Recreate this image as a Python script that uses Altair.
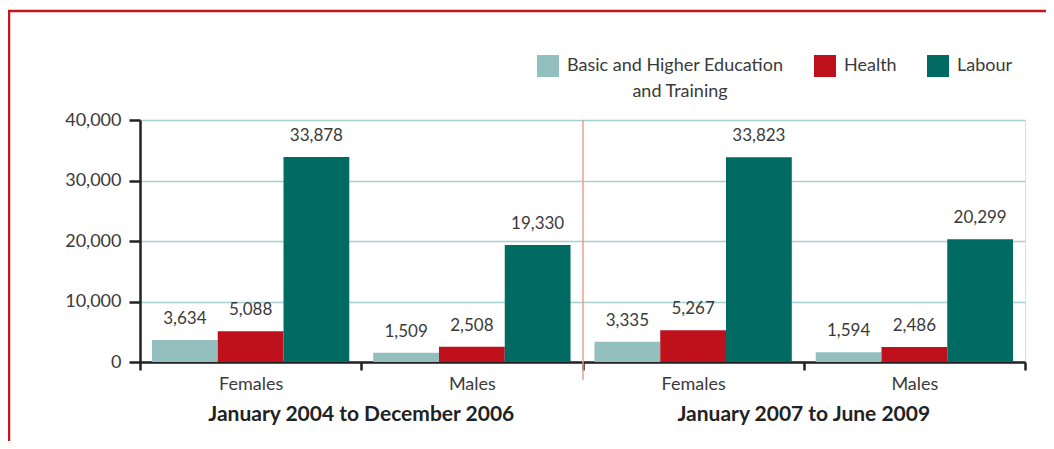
import altair as alt
import pandas as pd

periods = ["January 2004 to December 2006", "January 2004 to December 2006",
           "January 2007 to June 2009", "January 2007 to June 2009"]
sexes = ["Females", "Males", "Females", "Males"]
categories = ["Basic and Higher Education and Training", "Health", "Labour"]
edu = [3634, 1509, 3335, 1594]
health = [5088, 2508, 5267, 2486]
labour = [33878, 19330, 33823, 20299]
colors = ["#93bfbf", "#be111c", "#006b63"]
y_ticks = [0, 10000, 20000, 30000, 40000]

rows = []
for i in range(4):
    key = f"{i}|{sexes[i]}"
    for cat, vals in zip(categories, [edu, health, labour]):
        rows.append({"grp": key, "period": periods[i], "sex": sexes[i],
                     "category": cat, "value": vals[i]})
df = pd.DataFrame(rows)
grp_order = [f"{i}|{sexes[i]}" for i in range(4)]

FONT = "Lato"
TXT = "#3a3a3a"

xscale = alt.Scale(domain=grp_order, paddingInner=0, paddingOuter=0)
x_enc = alt.X("grp:N", sort=grp_order, scale=xscale, title=None,
              axis=alt.Axis(labelExpr="split(datum.label, '|')[1]", labelAngle=0,
                            tickBand="extent", tickSize=8, tickWidth=2.5, tickColor="#222",
                            domainColor="#222", domainWidth=2.5, labelFontSize=18,
                            labelFont=FONT, labelColor=TXT, labelPadding=5, grid=False))
xoff = alt.XOffset("category:N", sort=categories,
                   scale=alt.Scale(domain=categories, paddingInner=0, paddingOuter=0.182))

legend = alt.Legend(orient="none", legendX=397, legendY=-65, direction="horizontal",
                    title=None, symbolType="square", symbolSize=484, symbolStrokeWidth=0,
                    labelFont=FONT, labelFontSize=18, labelColor=TXT, labelOffset=8,
                    columnPadding=30, padding=0, labelLimit=400,
                    labelExpr="datum.label == 'Basic and Higher Education and Training' ? 'Basic and Higher Education' : datum.label")

color_enc = alt.Color("category:N", sort=categories,
                      scale=alt.Scale(domain=categories, range=colors), legend=legend)

y_enc = alt.Y("value:Q", scale=alt.Scale(domain=[0, 40000], nice=False), title=None,
              axis=alt.Axis(values=y_ticks, format=",.0f", tickSize=11, tickWidth=2.5,
                            tickColor="#222", domainColor="#222", domainWidth=2.5,
                            labelFontSize=18, labelFont=FONT, labelColor=TXT,
                            labelPadding=8, gridColor="#a8cfcf", gridWidth=1.5))

base = alt.Chart(df)
bars = base.mark_bar().encode(x=x_enc, xOffset=xoff, y=y_enc, color=color_enc)
labels = base.mark_text(baseline="bottom", dy=-12, fontSize=17, font=FONT, color=TXT).encode(
    x=alt.X("grp:N", sort=grp_order), xOffset=xoff,
    y="value:Q", text=alt.Text("value:Q", format=","))

pdf = pd.DataFrame({"grp": [grp_order[1], grp_order[3]], "period": [periods[0], periods[2]]})
period_text = alt.Chart(pdf).mark_text(fontSize=21, font=FONT, fontWeight="bold",
                                       color="#222", baseline="middle").encode(
    x=alt.X("grp:N", sort=grp_order, bandPosition=0), y=alt.value(295), text="period:N")

legend_line2 = alt.Chart(pd.DataFrame({"t": ["and Training"]})).mark_text(
    fontSize=18, font=FONT, color=TXT, align="center", baseline="middle").encode(
    x=alt.value(540), y=alt.value(-28), text="t:N")

sep = alt.Chart(pd.DataFrame({"a": [0]})).mark_rule(color="#e8a08f", strokeWidth=1.5).encode(
    x=alt.value(443), y=alt.value(0), y2=alt.value(260))
border_top = alt.Chart(pd.DataFrame({"a": [0]})).mark_rule(color="#c4161c", strokeWidth=2.5).encode(
    x=alt.value(-133), x2=alt.value(914), y=alt.value(-109))
border_left = alt.Chart(pd.DataFrame({"a": [0]})).mark_rule(color="#c4161c", strokeWidth=2.5).encode(
    x=alt.value(-131), y=alt.value(-110), y2=alt.value(330))

chart = alt.layer(bars, labels, period_text, legend_line2, sep, border_top, border_left).properties(
    width=885, height=242,
    autosize=alt.AutoSizeParams(type="none"),
    padding={"left": 132, "top": 112, "right": 21, "bottom": 79},
).configure_view(stroke=None).configure(font=FONT)

chart.save("out.html", embed_options={"renderer": "svg", "actions": False})
